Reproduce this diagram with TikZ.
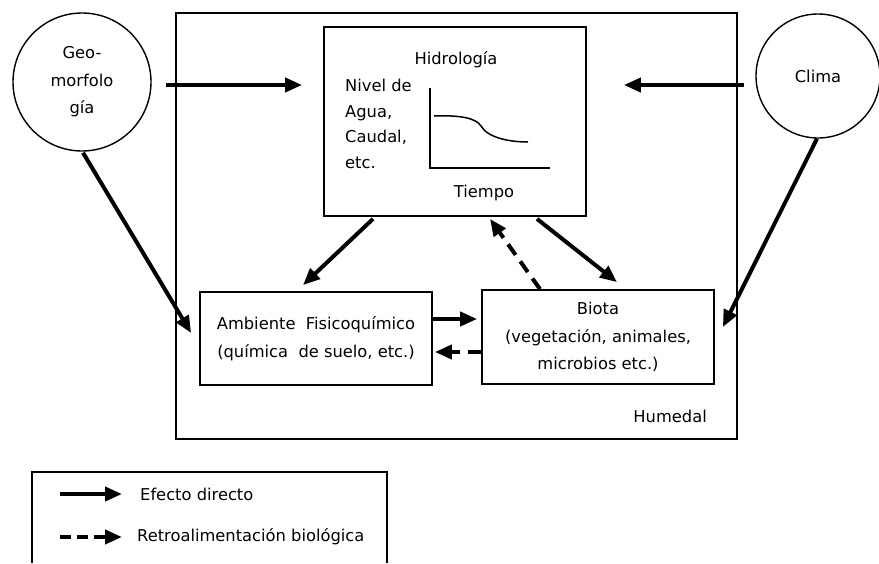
\documentclass[tikz,border=0pt]{standalone}
\usepackage{fontspec}
\setmainfont{DejaVu Sans}
\usepackage{tikz}
\usetikzlibrary{arrows.meta, positioning, calc}

\begin{document}
\begin{tikzpicture}[x=1pt, y=-1pt,
    every node/.style={font=\fontsize{16.3}{27.5}\selectfont, inner sep=0pt},
    box/.style={draw, line width=1.8pt, minimum width=#1},
    bubble/.style={draw, circle, line width=1.4pt, minimum size=#1, align=center},
    direct/.style={line width=4pt, -{Triangle[length=17pt, width=14pt]}},
    feedback/.style={direct, dash pattern=on 13pt off 8pt}]
  \useasboundingbox (0,0) rectangle (879,563);

  % humedal and the two drivers outside it
  \node[box=561pt, minimum height=426pt] (wet) at (456.5,226) {};
  \node[anchor=east] (wetlabel) at (707,416) {Humedal};
  \node[bubble=138pt] (geo) at (82,82) {Geo-\\morfolo\\gía};
  \node[bubble=124pt] (clima) at (818,76) {Clima};

  % inner boxes
  \node[box=262pt, minimum height=189pt] (hidro) at (455,121.5) {};
  \node (hidrotitle) at (456,60) {Hidrología};
  \node[anchor=west, align=left, font=\fontsize{16.3}{25.5}\selectfont] (nivel) at (345,124) {Nivel de\\Agua,\\Caudal,\\etc.};
  \node (tiempo) at (484,193) {Tiempo};
  \node[box=232pt, minimum height=93pt, align=center] (amb) at (316,338.5) {Ambiente\ \ Fisicoquímico\\(química\ \ de suelo, etc.)};
  \node[box=232pt, minimum height=94pt, align=center] (biota) at (598,337) {Biota\\(vegetación, animales,\\microbios etc.)};

  % little hydrograph
  \draw[line width=1.5pt] (430,88) -- (430,168) -- (550,168);
  \draw[line width=1.5pt] (434,116) .. controls (460,115) and (476,118) .. (481,126)
    .. controls (488,138) and (510,142) .. (528,142);

  % effects
  \draw[direct] ([shift={(14,3)}]geo.east) -- ([shift={(-21,-36.5)}]hidro.west);
  \draw[direct] ([shift={(-11,9)}]clima.west) -- ([shift={(37,-36.5)}]hidro.east);
  \draw[direct] ([shift={(1,1)}]geo.south) -- ([shift={(-8,-5.5)}]amb.west);
  \draw[direct] ([shift={(-1,0)}]clima.south) -- ([shift={(8,-10)}]biota.east);
  \draw[direct] ([shift={(-82,2)}]hidro.south) -- ([shift={(-13,-6)}]amb.north);
  \draw[direct] ([shift={(82,2)}]hidro.south) -- ([shift={(19,-7)}]biota.north);
  \draw[direct] ([shift={(0,-19.5)}]amb.east) -- ([shift={(-4,-18)}]biota.west);
  \draw[feedback] ([shift={(-58,0)}]biota.north) -- ([shift={(35,2)}]hidro.south);
  \draw[feedback] ([shift={(0,15)}]biota.west) -- ([shift={(2,13.5)}]amb.east);

  % legend
  \draw[line width=1.8pt] (32,563) -- (32,472) -- (387,472) -- (387,563);
  \node[anchor=west] (efecto) at (140,494) {Efecto directo};
  \node[anchor=west] (retro) at (137,537) {Retroalimentación biológica};
  \draw[direct] ([xshift=-80pt]efecto.west) -- ([xshift=-18pt]efecto.west);
  \draw[feedback, dash pattern=on 11pt off 6pt] ([xshift=-77pt]retro.west) -- ([xshift=-15pt]retro.west);
\end{tikzpicture}
\end{document}
